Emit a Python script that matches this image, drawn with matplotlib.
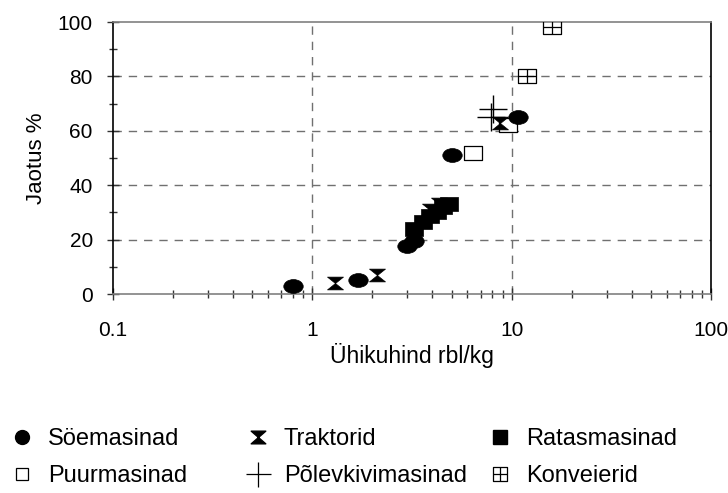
import matplotlib
matplotlib.use("Agg")
import matplotlib.pyplot as plt
from matplotlib.path import Path
from matplotlib.lines import Line2D
from matplotlib.ticker import FixedLocator, FixedFormatter, LogLocator, NullFormatter, MultipleLocator

plt.rcParams['font.family'] = ['Liberation Sans', 'DejaVu Sans']

# Unit price (rbl/kg) vs. share (%) for each machine group
soe_x = [0.8, 1.7, 3.0, 3.25, 5.0, 10.8]
soe_y = [3, 5, 17.5, 19.5, 51, 65]

trakt_x = [1.3, 2.1, 3.9, 4.3, 8.7]
trakt_y = [4, 7, 31, 33, 63]

ratas_x = [3.25, 3.6, 3.9, 4.2, 4.55, 4.85]
ratas_y = [24, 26.5, 28.5, 30, 32, 33]

puur_x = [6.4, 9.6]
puur_y = [52, 62]

polev_x = [7.9, 8.1]
polev_y = [65, 68]

konv_x = [12.0, 16.0]
konv_y = [80, 98]

x_ticks = [0.1, 1, 10, 100]
x_ticklabels = ["0.1", "1", "10", "100"]
y_ticks = [0, 20, 40, 60, 80, 100]

labels = ["Söemasinad", "Traktorid", "Ratasmasinad",
          "Puurmasinad", "Põlevkivimasinad", "Konveierid"]


def ellipse(sx):
    c = Path.unit_circle()
    return Path(c.vertices * [sx, 1.0], c.codes)


def rect(sx):
    return Path([(-sx, -1), (sx, -1), (sx, 1), (-sx, 1), (-sx, -1)],
                [Path.MOVETO, Path.LINETO, Path.LINETO, Path.LINETO, Path.CLOSEPOLY])


def hourglass(sx):
    return Path([(-sx, 1), (sx, 1), (0, 0), (-sx, 1),
                 (-sx, -1), (sx, -1), (0, 0), (-sx, -1)],
                [Path.MOVETO, Path.LINETO, Path.LINETO, Path.CLOSEPOLY,
                 Path.MOVETO, Path.LINETO, Path.LINETO, Path.CLOSEPOLY])


def boxcross(sx):
    return Path([(-sx, -1), (sx, -1), (sx, 1), (-sx, 1), (-sx, -1),
                 (0, -1), (0, 1), (-sx, 0), (sx, 0)],
                [Path.MOVETO, Path.LINETO, Path.LINETO, Path.LINETO, Path.CLOSEPOLY,
                 Path.MOVETO, Path.LINETO, Path.MOVETO, Path.LINETO])


fig = plt.figure(figsize=(7.28, 4.93), dpi=100)
ax = fig.add_axes([113 / 728, 1 - 294 / 493, 598 / 728, 272 / 493])

ax.set_xscale('log')
ax.set_xlim(0.1, 100)
ax.set_ylim(0, 100)

grid_kw = dict(color='#707070', linestyle=(0, (6, 5)), linewidth=1.0, zorder=1)
for v in [1, 10]:
    ax.axvline(v, **grid_kw)
for v in [20, 40, 60, 80]:
    ax.axhline(v, **grid_kw)

ax.plot(konv_x, konv_y, linestyle='none', marker=boxcross(1.4), ms=13.5,
        mfc='none', mec='black', mew=0.9, zorder=3)
ax.plot(puur_x, puur_y, linestyle='none', marker=rect(1.4), ms=13.5,
        mfc='white', mec='black', mew=0.9, zorder=3)
ax.plot(polev_x, polev_y, linestyle='none', marker='+', ms=20,
        mec='black', mew=1.0, zorder=4)
ax.plot(trakt_x, trakt_y, linestyle='none', marker=hourglass(1.25), ms=11.5,
        mfc='black', mec='black', mew=0.5, zorder=4)
ax.plot(ratas_x, ratas_y, linestyle='none', marker=rect(1.35), ms=13,
        mfc='black', mec='black', mew=0.5, zorder=4)
ax.plot(soe_x, soe_y, linestyle='none', marker=ellipse(1.4), ms=14,
        mfc='black', mec='black', mew=0.5, zorder=5)

for s in ['left', 'right']:
    ax.spines[s].set_color('black')
for s in ['top', 'bottom']:
    ax.spines[s].set_color('#808080')
for s in ax.spines.values():
    s.set_linewidth(1.2)

ax.xaxis.set_major_locator(FixedLocator(x_ticks))
ax.xaxis.set_major_formatter(FixedFormatter(x_ticklabels))
ax.xaxis.set_minor_locator(LogLocator(base=10, subs=range(2, 10)))
ax.xaxis.set_minor_formatter(NullFormatter())
ax.yaxis.set_major_locator(FixedLocator(y_ticks))
ax.yaxis.set_minor_locator(MultipleLocator(10))

ax.tick_params(axis='both', which='major', direction='inout', length=9,
               width=1.0, color='#333333', labelsize=15, pad=10)
ax.tick_params(axis='both', which='minor', direction='inout', length=6,
               width=1.0, color='#333333')
ax.tick_params(axis='x', which='major', pad=15)

ax.set_xlabel("Ühikuhind rbl/kg", fontsize=16.5, labelpad=2)
ax.set_ylabel("Jaotus %", fontsize=16, labelpad=8)

# Legend handles with undistorted marker shapes
handles = [
    Line2D([], [], linestyle='none', marker='o', ms=10, mfc='black', mec='black'),
    Line2D([], [], linestyle='none', marker=hourglass(1.15), ms=10.5, mfc='black', mec='black'),
    Line2D([], [], linestyle='none', marker='s', ms=10, mfc='black', mec='black'),
    Line2D([], [], linestyle='none', marker='s', ms=9, mfc='white', mec='black', mew=0.9),
    Line2D([], [], linestyle='none', marker='+', ms=18, mec='black', mew=0.9),
    Line2D([], [], linestyle='none', marker=boxcross(1.0), ms=9.5, mfc='none', mec='black', mew=0.9),
]

col_left = [10, 246, 488]
for i, left in enumerate(col_left):
    fig.legend([handles[i], handles[i + 3]], [labels[i], labels[i + 3]],
               loc='upper left', bbox_to_anchor=(left / 728, 1 - 428 / 493),
               frameon=False, fontsize=17, borderpad=0, borderaxespad=0,
               handlelength=1.0, handletextpad=0.6, labelspacing=0.65)

fig.savefig("out.png", dpi=100)
